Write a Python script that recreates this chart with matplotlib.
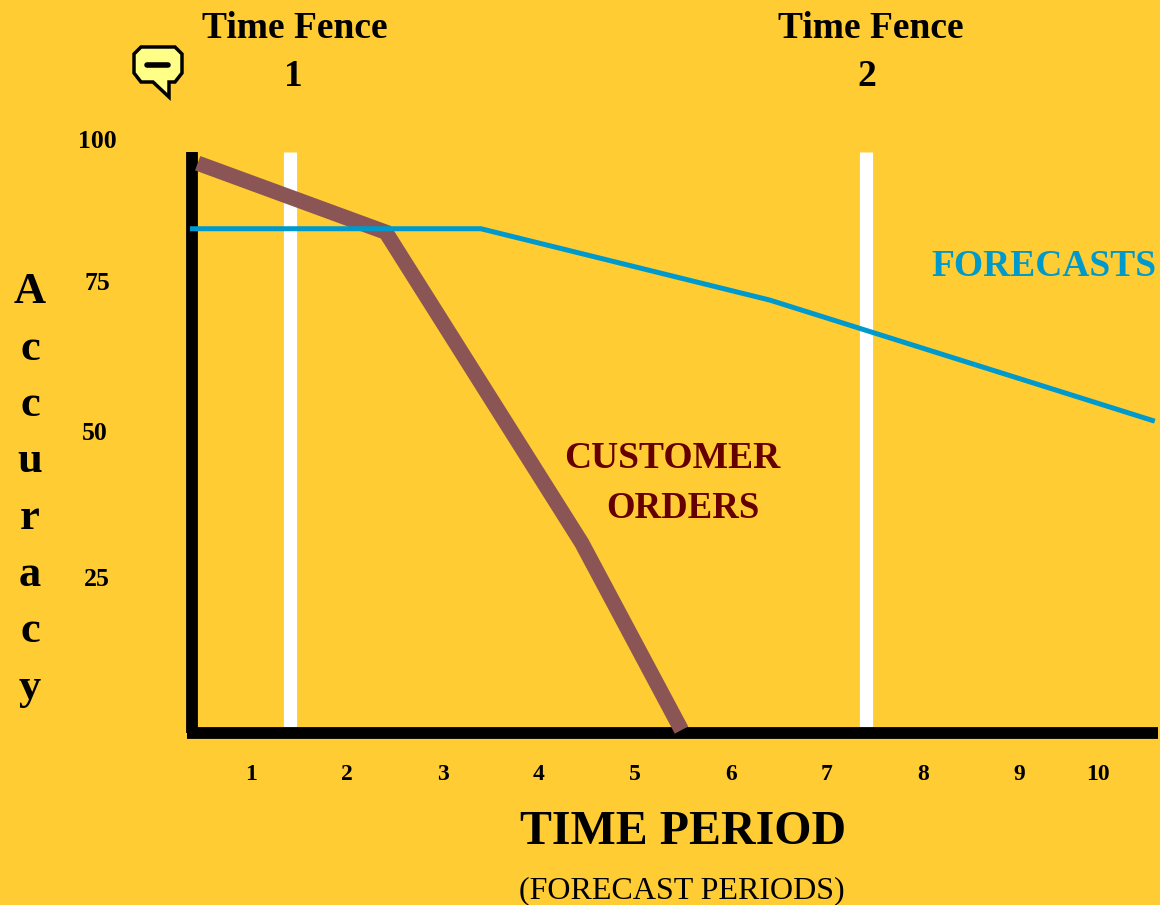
import matplotlib
matplotlib.use('Agg')
import matplotlib.pyplot as plt
from matplotlib.patches import Polygon

BG = '#FFCC33'

# x in forecast periods, y in accuracy
period_ticks = [1, 2, 3, 4, 5, 6, 7, 8, 9, 10]
accuracy_ticks = [25, 50, 75, 100]
orders_x = [0.08, 2.04, 4.08, 5.12]
orders_y = [97.4, 85.6, 32.5, 0.5]
forecast_x = [0, 3.03, 6.04, 10.05]
forecast_y = [86.2, 86.2, 74, 53.3]
fence_x = [1.04, 7.04]

plt.rcParams['font.family'] = ['Liberation Serif', 'DejaVu Serif']

fig = plt.figure(figsize=(11.6, 9.05), dpi=100, facecolor=BG)
W, H = 1160.0, 905.0
# axes origin at x=190,y=733 px; one period = 96 px
ax = fig.add_axes([0, 0, 1, 1])
ax.set_xlim(-190 / 96.0, (W - 190) / 96.0)
ax.set_ylim(-(H - 733) / 5.85, 733 / 5.85)
ax.axis('off')


def px(x, y):
    return (x - 190) / 96.0, (733 - y) / 5.85


# fences
for f in fence_x:
    ax.plot([f, f], [px(0, 152)[1], 0], color='white', lw=9.5, solid_capstyle='butt', zorder=2)

# axes lines
ax.plot([0.02, 0.02], [0, px(0, 152)[1]], color='black', lw=8.5, solid_capstyle='butt', zorder=3)
ax.plot([-0.03, px(1158, 0)[0]], [0, 0], color='black', lw=8.5, solid_capstyle='butt', zorder=3)

ax.plot(orders_x, orders_y, color='#8B5555', lw=11, solid_capstyle='butt', solid_joinstyle='miter', zorder=4)
ax.plot(forecast_x, forecast_y, color='#0099CC', lw=3.6, solid_capstyle='butt', zorder=5)

bold = dict(fontweight='bold', ha='center', va='center')
for p in period_ticks:
    xp = 251 + (p - 1) * 96 if p < 10 else 1098
    ax.text(*px(xp, 774), str(p), fontsize=17, **bold)
for a, yl, xp in zip(accuracy_ticks, [579, 433, 284, 141], [97, 95, 97, 97]):
    ax.text(*px(xp, yl), str(a), fontsize=18.5, **bold)

for i, c in enumerate('Accuracy'):
    ax.text(*px(30, 292 + i * 56.5), c, fontsize=32, **bold)

ax.text(*px(295, 28), 'Time Fence', fontsize=27, **bold)
ax.text(*px(293, 76), '1', fontsize=27, **bold)
ax.text(*px(871, 28), 'Time Fence', fontsize=27, **bold)
ax.text(*px(867, 76), '2', fontsize=27, **bold)

ax.text(*px(1044, 266), 'FORECASTS', fontsize=27, color='#0099CC', **bold)
ax.text(*px(672, 458), 'CUSTOMER', fontsize=27, color='#660000', **bold)
ax.text(*px(683, 508), 'ORDERS', fontsize=26.5, color='#660000', **bold)

ax.text(*px(683, 832), 'TIME PERIOD', fontsize=34.5, **bold)
ax.text(*px(682, 891), '(FORECAST PERIODS)', fontsize=23, ha='center', va='center')

# comment icon
bubble = [(141, 47), (175, 47), (182, 54), (182, 73), (175, 82), (169, 82), (169, 97), (153, 82), (141, 82), (134, 73), (134, 54)]
ax.add_patch(Polygon([px(*b) for b in bubble], closed=True, fc='#FFFF88', ec='black', lw=2.5, zorder=6))
ax.plot(*zip(px(147, 65), px(168, 65)), color='black', lw=4, solid_capstyle='round', zorder=7)

fig.savefig('out.png', dpi=100, facecolor=BG)
